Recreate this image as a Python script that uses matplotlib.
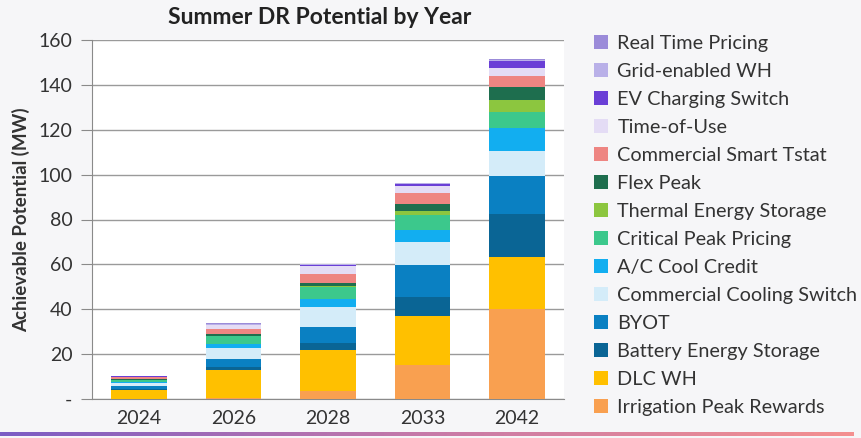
import numpy as np
import matplotlib.pyplot as plt
from matplotlib.patches import Patch
from matplotlib.colors import LinearSegmentedColormap

plt.rcParams['font.family'] = ['Lato', 'DejaVu Sans']

years = ["2024", "2026", "2028", "2033", "2042"]

# bottom to top stacking order
programs = [
    "Irrigation Peak Rewards",
    "DLC WH",
    "Battery Energy Storage",
    "BYOT",
    "Commercial Cooling Switch",
    "A/C Cool Credit",
    "Critical Peak Pricing",
    "Thermal Energy Storage",
    "Flex Peak",
    "Commercial Smart Tstat",
    "Time-of-Use",
    "EV Charging Switch",
    "Grid-enabled WH",
    "Real Time Pricing",
]

irrigation = [0.2, 0.3, 3.5, 15.2, 40.0]
dlc_wh = [3.8, 12.6, 18.5, 21.8, 23.5]
battery = [0.6, 1.5, 3.0, 8.6, 19.0]
byot = [1.2, 3.3, 7.0, 14.0, 17.0]
comm_cooling = [1.2, 5.2, 9.0, 10.3, 11.0]
ac_cool = [0.4, 1.5, 3.4, 5.6, 10.3]
cpp = [1.0, 3.6, 5.6, 6.4, 7.0]
thermal = [0.1, 0.2, 0.5, 1.8, 5.5]
flex_peak = [0.2, 0.6, 1.2, 3.0, 5.8]
comm_tstat = [0.9, 2.6, 3.8, 4.9, 5.0]
tou = [0.4, 1.4, 3.6, 3.3, 3.6]
ev_switch = [0.1, 0.3, 0.6, 0.9, 3.0]
grid_wh = [0.1, 0.3, 0.3, 0.3, 0.5]
rtp = [0.2, 0.4, 0.2, 0.2, 0.3]

series = [irrigation, dlc_wh, battery, byot, comm_cooling, ac_cool, cpp,
          thermal, flex_peak, comm_tstat, tou, ev_switch, grid_wh, rtp]

colors = ["#f9a050", "#ffc000", "#0a6595", "#0a80c2", "#d4ecf9", "#12aef0",
          "#3cc88c", "#8cc63f", "#1e6e4e", "#ee8582", "#e4dcf5", "#6a3fd6",
          "#b9b0e8", "#9b8bd9"]

fig = plt.figure(figsize=(8.62, 4.38), dpi=100, facecolor="#f6f6f8")
ax = fig.add_axes([92 / 862, 1 - 399 / 438, 472 / 862, 359 / 438])
ax.set_facecolor("white")

x = np.arange(len(years))
bottom = np.zeros(len(years))
for vals, col in zip(series, colors):
    ax.bar(x, vals, 0.59, bottom=bottom, color=col, zorder=3)
    bottom += np.array(vals)

ax.set_xlim(-0.5, 4.5)
ax.set_ylim(0, 160)
ax.set_yticks(range(0, 161, 20))
ax.set_yticklabels(["-"] + [str(v) for v in range(20, 161, 20)])
ax.set_xticks(x)
ax.set_xticklabels(years)
ax.grid(axis="y", color="#9a9a9a", linewidth=1, zorder=0)
for s in ["top", "right"]:
    ax.spines[s].set_visible(False)
for s in ["left", "bottom"]:
    ax.spines[s].set_color("#8a8a8a")
ax.tick_params(axis="y", length=8, color="#8a8a8a", labelsize=14, pad=6)
ax.tick_params(axis="x", length=0, labelsize=14, pad=8)
for t in ax.get_yticklabels() + ax.get_xticklabels():
    t.set_color("#333333")

ax.set_ylabel("Achievable Potential (MW)", fontsize=13.5, fontweight="bold",
              color="#333333", labelpad=6)
fig.text(320 / 862, 1 - 18 / 438, "Summer DR Potential by Year", ha="center", va="center",
         fontsize=16.5, fontweight="bold", color="#222222")

handles = [Patch(facecolor=c, edgecolor="none") for c in colors[::-1]]
fig.legend(handles, programs[::-1], loc="upper left", bbox_to_anchor=(0.685, 0.93),
           frameon=False, fontsize=14.3, handlelength=0.7, handleheight=0.7,
           handletextpad=0.45, labelspacing=0.555, labelcolor="#333333",
           borderaxespad=0, borderpad=0.2)

# decorative gradient line at bottom
lax = fig.add_axes([0.0, 0.005, 0.99, 0.008])
grad = np.linspace(0, 1, 256).reshape(1, -1)
cm = LinearSegmentedColormap.from_list("g", ["#7b5cc4", "#c77aa8", "#f49090"])
lax.imshow(grad, aspect="auto", cmap=cm)
lax.axis("off")

fig.savefig("out.png", dpi=100, facecolor=fig.get_facecolor())
